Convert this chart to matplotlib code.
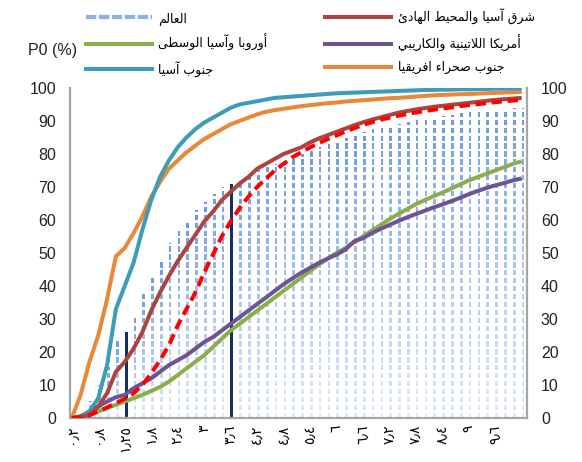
import matplotlib
matplotlib.use("Agg")
import matplotlib.pyplot as plt
import numpy as np
from matplotlib.lines import Line2D
from matplotlib.colors import to_rgb

# ---------------- data ----------------
x_labels = ["٠٫٢", "٠٫٨", "١٫٢٥", "١٫٨", "٢٫٤", "٣", "٣٫٦", "٤٫٢", "٤٫٨",
            "٥٫٤", "٦", "٦٫٦", "٧٫٢", "٧٫٨", "٨٫٤", "٩", "٩٫٦"]
label_step = 3
highlight_idx = [6, 18]

world_bars = [0.5, 2, 5, 10, 15.5, 23.5, 26, 31, 38, 43, 48, 53, 57, 59.5, 63, 65.5,
              68, 70, 71, 72, 73.5, 75, 76, 77, 78, 79, 80, 81, 82, 83, 84, 85, 86,
              86.8, 87.5, 88, 88.7, 89.2, 89.7, 90.2, 90.7, 91.1, 91.5, 91.9, 92.3,
              92.6, 92.9, 93.2, 93.4, 93.6, 93.8, 94]

world_line = [0, 0.2, 0.8, 2, 3.2, 4.5, 5.8, 7.5, 10, 13.5, 17.5, 22, 28, 33, 38,
              44, 49.5, 55, 59.5, 63.5, 67, 70, 72.5, 75, 77, 79, 80.5, 82, 83.3,
              84.5, 85.6, 86.8, 87.8, 88.8, 89.6, 90.4, 91, 91.6, 92.1, 92.6, 93,
              93.4, 93.8, 94.1, 94.5, 94.8, 95.1, 95.4, 95.7, 96, 96.2, 96.4]

east_asia = [0, 0.3, 1, 3.5, 7.5, 14, 17, 21, 26, 32.5, 38, 43, 47.5, 51.5, 55.5,
             59.5, 62.5, 66, 68.5, 71, 73, 75.5, 77, 78.5, 80, 81, 82, 83.5, 84.7,
             85.7, 86.7, 87.7, 88.7, 89.6, 90.4, 91.1, 91.8, 92.5, 93, 93.5, 93.9,
             94.3, 94.6, 94.9, 95.2, 95.5, 95.8, 96.1, 96.4, 96.6, 96.8, 97]

europe_ca = [0, 0.5, 1.2, 2, 3, 4, 5, 6, 7, 8.2, 9.4, 11, 13, 15, 17, 19, 21.5, 24,
             26.5, 28.5, 30.5, 32.5, 34.5, 36.5, 38.5, 40.5, 42.5, 44.5, 46.5, 48.3,
             50, 51.5, 53.3, 55, 56.8, 58.5, 60.2, 61.8, 63.3, 64.8, 66, 67.2, 68.3,
             69.5, 70.8, 72, 73, 74, 75, 76, 77, 77.8]

latin_am = [0, 0.5, 2, 3.5, 5, 6.3, 7, 9, 10.5, 12, 14, 16, 17.5, 19, 21, 23, 24.5,
            26.5, 28.5, 30.5, 32.5, 34.5, 36.5, 38.5, 40.5, 42.3, 44, 45.5, 47, 48.3,
            49.5, 51, 53.5, 54.5, 56, 57.3, 58.5, 59.7, 60.8, 61.8, 62.8, 63.8, 64.7,
            65.7, 66.7, 67.8, 68.8, 69.7, 70.5, 71.2, 72, 72.6]

south_asia = [0, 0.3, 2, 6, 16, 33, 40, 47, 57, 66, 73, 78, 82, 85, 87.5, 89.5, 91,
              92.5, 94, 95, 95.5, 96, 96.5, 97, 97.2, 97.4, 97.6, 97.8, 98, 98.2, 98.4,
              98.5, 98.6, 98.7, 98.8, 98.9, 99, 99.1, 99.2, 99.3, 99.4, 99.4, 99.5,
              99.5, 99.6, 99.6, 99.7, 99.7, 99.8, 99.8, 99.8, 99.9]

ssa = [0, 7, 17, 25, 36, 49, 51.5, 56, 61, 67, 71.5, 75.5, 78, 80.5, 82.5, 84.5, 86,
       87.5, 89, 90, 91, 92, 92.8, 93.3, 93.7, 94.1, 94.5, 94.8, 95.1, 95.4, 95.6,
       95.9, 96.1, 96.3, 96.5, 96.7, 96.9, 97.0, 97.2, 97.4, 97.6, 97.8, 97.9, 98.0,
       98.1, 98.2, 98.3, 98.4, 98.5, 98.6, 98.7, 98.8]

name_world = "العالم"
name_eca = "أوروبا وآسيا الوسطى"
name_sa = "جنوب آسيا"
name_eap = "شرق آسيا والمحيط الهادئ"
name_lac = "أمريكا اللاتينية والكاريبي"
name_ssa = "جنوب صحراء افريقيا"
y_title = "P0 (%)"

# ---------------- Arabic shaping (matplotlib has no bidi/shaping) ----------------
_F = {
    'ء': (0xFE80, None, None, None), 'آ': (0xFE81, 0xFE82, None, None),
    'أ': (0xFE83, 0xFE84, None, None), 'ؤ': (0xFE85, 0xFE86, None, None),
    'إ': (0xFE87, 0xFE88, None, None), 'ئ': (0xFE89, 0xFE8A, 0xFE8B, 0xFE8C),
    'ا': (0xFE8D, 0xFE8E, None, None), 'ب': (0xFE8F, 0xFE90, 0xFE91, 0xFE92),
    'ة': (0xFE93, 0xFE94, None, None), 'ت': (0xFE95, 0xFE96, 0xFE97, 0xFE98),
    'ث': (0xFE99, 0xFE9A, 0xFE9B, 0xFE9C), 'ج': (0xFE9D, 0xFE9E, 0xFE9F, 0xFEA0),
    'ح': (0xFEA1, 0xFEA2, 0xFEA3, 0xFEA4), 'خ': (0xFEA5, 0xFEA6, 0xFEA7, 0xFEA8),
    'د': (0xFEA9, 0xFEAA, None, None), 'ذ': (0xFEAB, 0xFEAC, None, None),
    'ر': (0xFEAD, 0xFEAE, None, None), 'ز': (0xFEAF, 0xFEB0, None, None),
    'س': (0xFEB1, 0xFEB2, 0xFEB3, 0xFEB4), 'ش': (0xFEB5, 0xFEB6, 0xFEB7, 0xFEB8),
    'ص': (0xFEB9, 0xFEBA, 0xFEBB, 0xFEBC), 'ض': (0xFEBD, 0xFEBE, 0xFEBF, 0xFEC0),
    'ط': (0xFEC1, 0xFEC2, 0xFEC3, 0xFEC4), 'ظ': (0xFEC5, 0xFEC6, 0xFEC7, 0xFEC8),
    'ع': (0xFEC9, 0xFECA, 0xFECB, 0xFECC), 'غ': (0xFECD, 0xFECE, 0xFECF, 0xFED0),
    'ف': (0xFED1, 0xFED2, 0xFED3, 0xFED4), 'ق': (0xFED5, 0xFED6, 0xFED7, 0xFED8),
    'ك': (0xFED9, 0xFEDA, 0xFEDB, 0xFEDC), 'ل': (0xFEDD, 0xFEDE, 0xFEDF, 0xFEE0),
    'م': (0xFEE1, 0xFEE2, 0xFEE3, 0xFEE4), 'ن': (0xFEE5, 0xFEE6, 0xFEE7, 0xFEE8),
    'ه': (0xFEE9, 0xFEEA, 0xFEEB, 0xFEEC), 'و': (0xFEED, 0xFEEE, None, None),
    'ى': (0xFEEF, 0xFEF0, None, None), 'ي': (0xFEF1, 0xFEF2, 0xFEF3, 0xFEF4),
}
_LA = {'آ': (0xFEF5, 0xFEF6), 'أ': (0xFEF7, 0xFEF8), 'إ': (0xFEF9, 0xFEFA), 'ا': (0xFEFB, 0xFEFC)}


def _joins_next(c):
    f = _F.get(c)
    return f is not None and f[2] is not None


def ar(text):
    """Shape Arabic letters into presentation forms and lay them out right-to-left."""
    out = []
    i, n = 0, len(text)
    while i < n:
        c = text[i]
        if c not in _F:
            out.append(c)
            i += 1
            continue
        prev = text[i - 1] if i > 0 else None
        cp = prev is not None and _joins_next(prev) and _F[c][1] is not None
        if c == 'ل' and i + 1 < n and text[i + 1] in _LA:
            iso, fin = _LA[text[i + 1]]
            out.append(chr(fin if cp else iso))
            i += 2
            continue
        nxt = text[i + 1] if i + 1 < n else None
        cn = _joins_next(c) and nxt in _F
        iso, fin, ini, med = _F[c]
        g = med if (cp and cn) else fin if cp else ini if cn else iso
        out.append(chr(g))
        i += 1
    return ''.join(reversed(out))


# ---------------- figure ----------------
plt.rcParams['font.family'] = ['Liberation Sans', 'DejaVu Sans']
fig = plt.figure(figsize=(5.82, 4.62), dpi=100)
ax = fig.add_axes([70 / 582, 44 / 462, 457 / 582, 330 / 462])

n = len(world_bars)
idx = np.arange(n)

# dashed gradient bars for the world series
pale = np.array(to_rgb('#dfe8f6'))
blue = np.array(to_rgb('#6a9ade'))
seg_len, gap = 1.6, 0.8
xs, bottoms, heights, cols = [], [], [], []
for i, v in zip(idx, world_bars):
    if i in highlight_idx:
        continue
    b = 0.0
    while b < v:
        h = min(seg_len, v - b)
        t = (b + h / 2) / max(v, 1e-6)
        xs.append(i + 0.15)
        bottoms.append(b)
        heights.append(h)
        cols.append(pale + (blue - pale) * t ** 1.2)
        b += seg_len + gap
ax.bar(xs, heights, bottom=bottoms, width=0.3, color=cols, linewidth=0, zorder=1)
ax.bar(np.array(highlight_idx) + 0.15, [world_bars[i] for i in highlight_idx], width=0.34,
       color='#132f66', linewidth=0, zorder=2)

lw = 2.9
ax.plot(idx, europe_ca, color='#8aaf4a', lw=lw, zorder=3, solid_capstyle='butt')
ax.plot(idx, latin_am, color='#6c5495', lw=lw, zorder=4, solid_capstyle='butt')
ax.plot(idx, ssa, color='#e8893a', lw=lw, zorder=5, solid_capstyle='butt')
ax.plot(idx, south_asia, color='#3e9cb8', lw=lw, zorder=6, solid_capstyle='butt')
ax.plot(idx, east_asia, color='#a94642', lw=lw, zorder=7, solid_capstyle='butt')
ax.plot(idx, world_line, color='#ff0000', lw=lw, ls=(0, (2.6, 1.4)), zorder=8,
        dash_capstyle='butt')

ax.set_ylim(0, 100)
ax.set_xlim(-0.2, n - 0.4)
ax.set_yticks(np.arange(0, 101, 10))
tick_pos = idx[:len(x_labels) * label_step:label_step]
ax.set_xticks(tick_pos)
ax.set_xticklabels(x_labels, rotation=90, fontsize=10, family=['DejaVu Sans'])
ax.tick_params(axis='x', length=0, pad=5)
ax.tick_params(axis='y', length=0, pad=10, labelsize=11.5, labelright=True,
               right=False)
for lab in ax.get_yticklabels():
    lab.set_color('#222222')

ax.spines['top'].set_visible(False)
for s in ['left', 'right', 'bottom']:
    ax.spines[s].set_color('#a6a6a6')
    ax.spines[s].set_linewidth(1.6)

# legend
handles = [
    Line2D([], [], color='#8db3e2', lw=3, ls=(0, (2.5, 0.6))),
    Line2D([], [], color='#8aaf4a', lw=lw),
    Line2D([], [], color='#3e9cb8', lw=lw),
    Line2D([], [], color='#a94642', lw=lw),
    Line2D([], [], color='#6c5495', lw=lw),
    Line2D([], [], color='#e8893a', lw=lw),
]
labels = [ar(name_world), ar(name_eca), ar(name_sa), ar(name_eap), ar(name_lac), ar(name_ssa)]
fig.legend(handles, labels, ncol=2, loc='upper left', bbox_to_anchor=(86 / 582, 1 - 9 / 462),
           frameon=False, handlelength=5.3, handletextpad=0.5,
           columnspacing=4.6, labelspacing=0.75, borderpad=0, borderaxespad=0,
           prop={'family': ['DejaVu Sans'], 'size': 9})

fig.text(28 / 582, 1 - 50 / 462, y_title, fontsize=11.5, va='center', ha='left', color='#222222')

fig.savefig('out.png', dpi=100)
